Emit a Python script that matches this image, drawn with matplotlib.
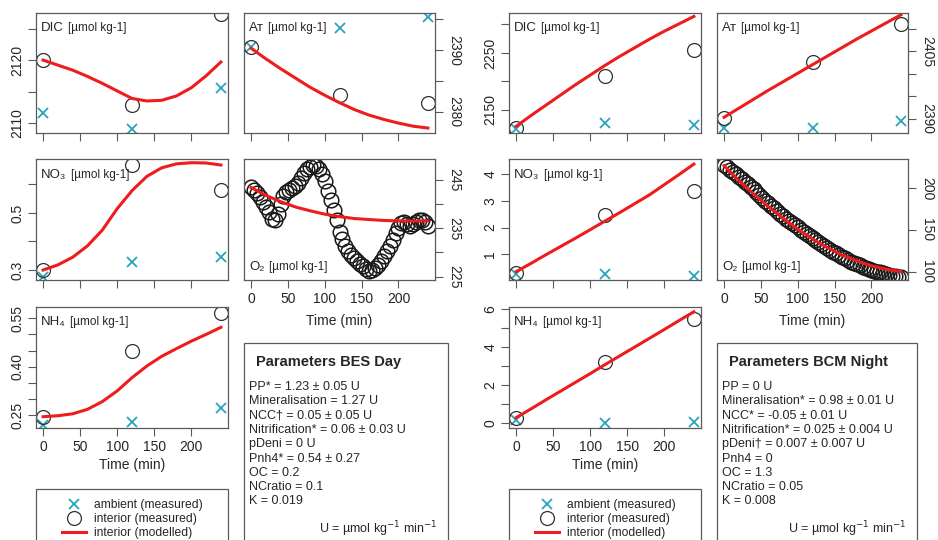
import numpy as np
import matplotlib.pyplot as plt
from matplotlib.patches import Rectangle

plt.rcParams['font.family'] = ['Liberation Sans', 'DejaVu Sans']

# ===============================
# DATA
# ===============================
t_meas = [0, 120, 240]
t_mod = [0, 20, 40, 60, 80, 100, 120, 140, 160, 180, 200, 220, 240]
t_o2 = np.arange(0, 241, 4)

# --- BES Day ---
bes_dic_amb = [2111.6, 2109.1, 2115.6]
bes_dic_int = [2120.0, 2112.9, 2127.4]
bes_dic_mod = [2120.0, 2119.2, 2118.4, 2117.4, 2116.3, 2115.1, 2113.9,
               2113.5, 2113.6, 2114.3, 2115.6, 2117.5, 2119.7]

bes_at_amb = [2390.5, 2393.5, 2395.4]
bes_at_int = [2390.5, 2382.8, 2381.4]
bes_at_mod = [2390.3, 2388.6, 2387.0, 2385.5, 2384.0, 2382.7, 2381.5,
              2380.4, 2379.5, 2378.8, 2378.2, 2377.7, 2377.4]

bes_no3_amb = [0.277, 0.329, 0.347]
bes_no3_int = [0.300, 0.668, 0.580]
bes_no3_mod = [0.300, 0.318, 0.345, 0.385, 0.440, 0.515, 0.578,
               0.628, 0.658, 0.672, 0.676, 0.675, 0.668]

bes_nh4_amb = [0.218, 0.228, 0.271]
bes_nh4_int = [0.243, 0.450, 0.567]
bes_nh4_mod = [0.245, 0.248, 0.254, 0.268, 0.292, 0.325, 0.366,
               0.402, 0.432, 0.456, 0.479, 0.500, 0.522]

bes_o2_obs = [243.6, 242.9, 242.3, 241.5, 240.5, 239.4, 238.3, 236.9, 236.6, 238.0,
              240.0, 241.6, 242.4, 242.9, 243.4, 243.8, 244.3, 245.4, 246.4, 247.2,
              247.7, 248.1, 247.9, 247.3, 246.2, 244.7, 242.7, 240.8, 238.8, 236.6,
              234.3, 232.8, 231.3, 230.3, 229.5, 228.9, 228.2, 227.7, 227.1, 226.6,
              226.2, 226.3, 226.8, 227.5, 228.3, 229.2, 230.2, 231.4, 232.6, 234.0,
              235.1, 236.0, 236.3, 235.8, 235.5, 235.9, 236.3, 236.6, 236.7, 236.2, 235.4]
bes_o2_mod = [243.4, 241.8, 240.5, 239.4, 238.6, 237.9, 237.4,
              237.0, 236.8, 236.6, 236.5, 236.5, 236.5]

# --- BCM Night ---
bcm_dic_amb = [2117.0, 2127.5, 2124.0]
bcm_dic_int = [2118.2, 2208.8, 2255.9]
bcm_dic_mod = [2121, 2140, 2158, 2176, 2194, 2211, 2228,
               2244, 2259, 2274, 2288, 2301, 2314]

bcm_at_amb = [2387.9, 2387.9, 2389.5]
bcm_at_int = [2390.2, 2402.5, 2411.1]
bcm_at_mod = [2390.3, 2392.3, 2394.3, 2396.3, 2398.2, 2400.1, 2402.0,
              2403.9, 2405.8, 2407.7, 2409.5, 2411.3, 2413.1]

bcm_no3_amb = [0.27, 0.27, 0.19]
bcm_no3_int = [0.30, 2.47, 3.38]
bcm_no3_mod = [0.35, 0.66, 0.98, 1.29, 1.60, 1.92, 2.24,
               2.56, 2.89, 3.22, 3.60, 3.98, 4.37]

bcm_nh4_amb = [0.20, 0.00, 0.05]
bcm_nh4_int = [0.26, 3.24, 5.47]
bcm_nh4_mod = [0.30, 0.76, 1.23, 1.69, 2.15, 2.61, 3.08,
               3.54, 4.00, 4.46, 4.92, 5.39, 5.85]

bcm_o2_obs = [228, 225, 222, 219, 216.5, 213.5, 211, 207.5, 204.5, 201.5,
              198.5, 195, 191.5, 188, 185, 182, 179, 176, 172.5, 169.5,
              166.5, 163.5, 161, 158.5, 155.5, 153, 150.5, 148, 145.5, 143,
              140.5, 138, 135.5, 133, 130.5, 128, 126, 124, 122, 120,
              118, 116, 114, 112, 110.5, 109, 107.5, 106, 104.5, 103,
              102, 101, 100, 99, 98, 97, 96, 95, 94.5, 94, 93.5]
bcm_o2_mod = [227, 209, 193, 178, 164, 151, 139, 129, 120, 113, 107, 103, 100]

bes_params = ["PP* = 1.23 ± 0.05 U",
              "Mineralisation = 1.27 U",
              "NCC† = 0.05 ± 0.05 U",
              "Nitrification* = 0.06 ± 0.03 U",
              "pDeni = 0 U",
              "Pnh4* = 0.54 ± 0.27",
              "OC = 0.2",
              "NCratio = 0.1",
              "K = 0.019"]
bcm_params = ["PP = 0 U",
              "Mineralisation* = 0.98 ± 0.01 U",
              "NCC* = -0.05 ± 0.01 U",
              "Nitrification* = 0.025 ± 0.004 U",
              "pDeni† = 0.007 ± 0.007 U",
              "Pnh4 = 0",
              "OC = 1.3",
              "NCratio = 0.05",
              "K = 0.008"]

x_ticks = [0, 50, 100, 150, 200]

# ===============================
# STYLE + LAYOUT HELPERS (pixels)
# ===============================
W, H = 938, 540
TEAL = '#27a3bd'
RED = '#ee1c1c'
EDGE = '#5a5a5a'
TXT = '#262626'
UNIT = "[µmol kg-1]"

fig = plt.figure(figsize=(W / 100, H / 100), dpi=100)


def rect(x0, y0, x1, y1):
    return [x0 / W, 1 - y1 / H, (x1 - x0) / W, (y1 - y0) / H]


def put(x, y, s, **kw):
    kw.setdefault('color', TXT)
    return fig.text(x / W, 1 - y / H, s, **kw)


def label(ax, x, y, big, small):
    t1 = put(x, y, big, fontsize=9.5, va='baseline')
    ax.annotate(small, xy=(1, 0), xycoords=t1, xytext=(3, 0),
                textcoords='offset points', va='bottom', fontsize=8.5, color=TXT)


def panel(box, ylim, yticks, ylabels, side, xlab=False):
    ax = fig.add_axes(rect(*box))
    ax.set_xlim(-9.6, 249.6)
    ax.set_ylim(*ylim)
    ax.set_xticks(x_ticks)
    ax.set_yticks(yticks)
    ax.set_yticklabels(ylabels, rotation=90 if side == 'left' else -90, va='center')
    if side == 'right':
        ax.yaxis.tick_right()
    ax.tick_params(direction='out', length=5.5, width=0.8, color=EDGE,
                   labelsize=10, labelcolor=TXT, pad=3)
    if xlab:
        ax.set_xticklabels([str(v) for v in x_ticks])
    else:
        ax.tick_params(axis='x', labelbottom=False)
    for s in ax.spines.values():
        s.set_color(EDGE)
        s.set_linewidth(0.9)
    return ax


def measured(ax, amb, intr, mod):
    ha = ax.plot(t_meas, amb, ls='none', marker='x', color=TEAL, ms=7, mew=1.3)[0]
    hi = ax.plot(t_meas, intr, ls='none', marker='o', mfc='none', mec='#303030',
                 ms=10, mew=0.9)[0]
    hm = ax.plot(t_mod, mod, color=RED, lw=2.2)[0]
    return ha, hi, hm


def group(dx, d, params, title, box_w):
    c0, c1 = 36 + dx, 228 + dx
    c2, c3 = 244 + dx, 435 + dx

    ax = panel((c0, 13, c1, 133), d['dic_lim'], d['dic_t'], d['dic_l'], 'left')
    measured(ax, *d['dic'])
    label(ax, c0 + 5, 31, "DIC", UNIT)

    ax = panel((c2, 13, c3, 133), d['at_lim'], d['at_t'], d['at_l'], 'right')
    measured(ax, *d['at'])
    label(ax, c2 + 5, 31, "Aᴛ", UNIT)

    ax = panel((c0, 159, c1, 280), d['no3_lim'], d['no3_t'], d['no3_l'], 'left')
    measured(ax, *d['no3'])
    label(ax, c0 + 5, 178, "NO₃", UNIT)

    ax = panel((c2, 159, c3, 280), d['o2_lim'], d['o2_t'], d['o2_l'], 'right', xlab=True)
    ax.plot(t_o2, d['o2'][0], ls='none', marker='o', mfc='none', mec='#1a1a1a',
            ms=10.5, mew=1.1)
    ax.plot(t_mod, d['o2'][1], color=RED, lw=2.2)
    label(ax, c2 + 5, 270, "O₂", UNIT)
    put((c2 + c3) / 2, 321, "Time (min)", fontsize=10, ha='center', va='center')

    ax = panel((c0, 307, c1, 428), d['nh4_lim'], d['nh4_t'], d['nh4_l'], 'left', xlab=True)
    handles = measured(ax, *d['nh4'])
    label(ax, c0 + 5, 325, "NH₄", UNIT)
    put((c0 + c1) / 2, 465, "Time (min)", fontsize=10, ha='center', va='center')

    # legend (box runs off the bottom edge, as in the original)
    fig.patches.append(Rectangle((c0 / W, -0.05), (c1 - c0) / W, (1 - 489 / H) + 0.05,
                                 transform=fig.transFigure, fill=False,
                                 ec=EDGE, lw=0.9))
    fig.legend(handles, ["ambient (measured)", "interior (measured)", "interior (modelled)"],
               loc='upper left', bbox_to_anchor=((c0 + 26) / W, 1 - 499 / H),
               frameon=False, fontsize=8.7, handlelength=2.0, handletextpad=0.65,
               labelspacing=0.17, borderpad=0, borderaxespad=0, labelcolor=TXT)

    # parameter box
    bx0 = 244 + dx
    bx1 = bx0 + box_w
    fig.patches.append(Rectangle((bx0 / W, -0.05), (bx1 - bx0) / W, (1 - 343 / H) + 0.05,
                                 transform=fig.transFigure, fill=False,
                                 ec=EDGE, lw=0.9))
    put(bx0 + 12, 362, title, fontsize=10.5, fontweight='bold', va='center')
    for i, line in enumerate(params):
        put(bx0 + 5, 387 + i * 14.3, line, fontsize=9, va='center')
    put(bx1 - 11, 529, "U = µmol kg$^{-1}$ min$^{-1}$", fontsize=9, ha='right', va='center')


bes = dict(
    dic=(bes_dic_amb, bes_dic_int, bes_dic_mod), dic_lim=(2108.4, 2127.5),
    dic_t=[2110, 2115, 2120, 2125], dic_l=['2110', '', '2120', ''],
    at=(bes_at_amb, bes_at_int, bes_at_mod), at_lim=(2376.6, 2396.0),
    at_t=[2380, 2385, 2390, 2395], at_l=['2380', '', '2390', ''],
    no3=(bes_no3_amb, bes_no3_int, bes_no3_mod), no3_lim=(0.265, 0.689),
    no3_t=[0.3, 0.4, 0.5, 0.6], no3_l=['0.3', '', '0.5', ''],
    o2=(bes_o2_obs, bes_o2_mod), o2_lim=(224.3, 249.3),
    o2_t=[225, 230, 235, 240, 245], o2_l=['225', '', '235', '', '245'],
    nh4=(bes_nh4_amb, bes_nh4_int, bes_nh4_mod), nh4_lim=(0.21, 0.585),
    nh4_t=[0.25, 0.30, 0.35, 0.40, 0.45, 0.50, 0.55],
    nh4_l=['0.25', '', '', '0.40', '', '', '0.55'],
)
bcm = dict(
    dic=(bcm_dic_amb, bcm_dic_int, bcm_dic_mod), dic_lim=(2109.4, 2320.0),
    dic_t=[2150, 2200, 2250, 2300], dic_l=['2150', '', '2250', ''],
    at=(bcm_at_amb, bcm_at_int, bcm_at_mod), at_lim=(2386.8, 2413.5),
    at_t=[2390, 2395, 2400, 2405, 2410], at_l=['2390', '', '', '2405', ''],
    no3=(bcm_no3_amb, bcm_no3_int, bcm_no3_mod), no3_lim=(0.04, 4.56),
    no3_t=[1, 2, 3, 4], no3_l=['1', '2', '3', '4'],
    o2=(bcm_o2_obs, bcm_o2_mod), o2_lim=(90, 235),
    o2_t=[100, 150, 200], o2_l=['100', '150', '200'],
    nh4=(bcm_nh4_amb, bcm_nh4_int, bcm_nh4_mod), nh4_lim=(-0.24, 6.1),
    nh4_t=[0, 1, 2, 3, 4, 5, 6], nh4_l=['0', '', '2', '', '4', '', '6'],
)

group(0, bes, bes_params, "Parameters BES Day", 204)
group(473, bcm, bcm_params, "Parameters BCM Night", 200)

fig.savefig("out.png", dpi=100)
